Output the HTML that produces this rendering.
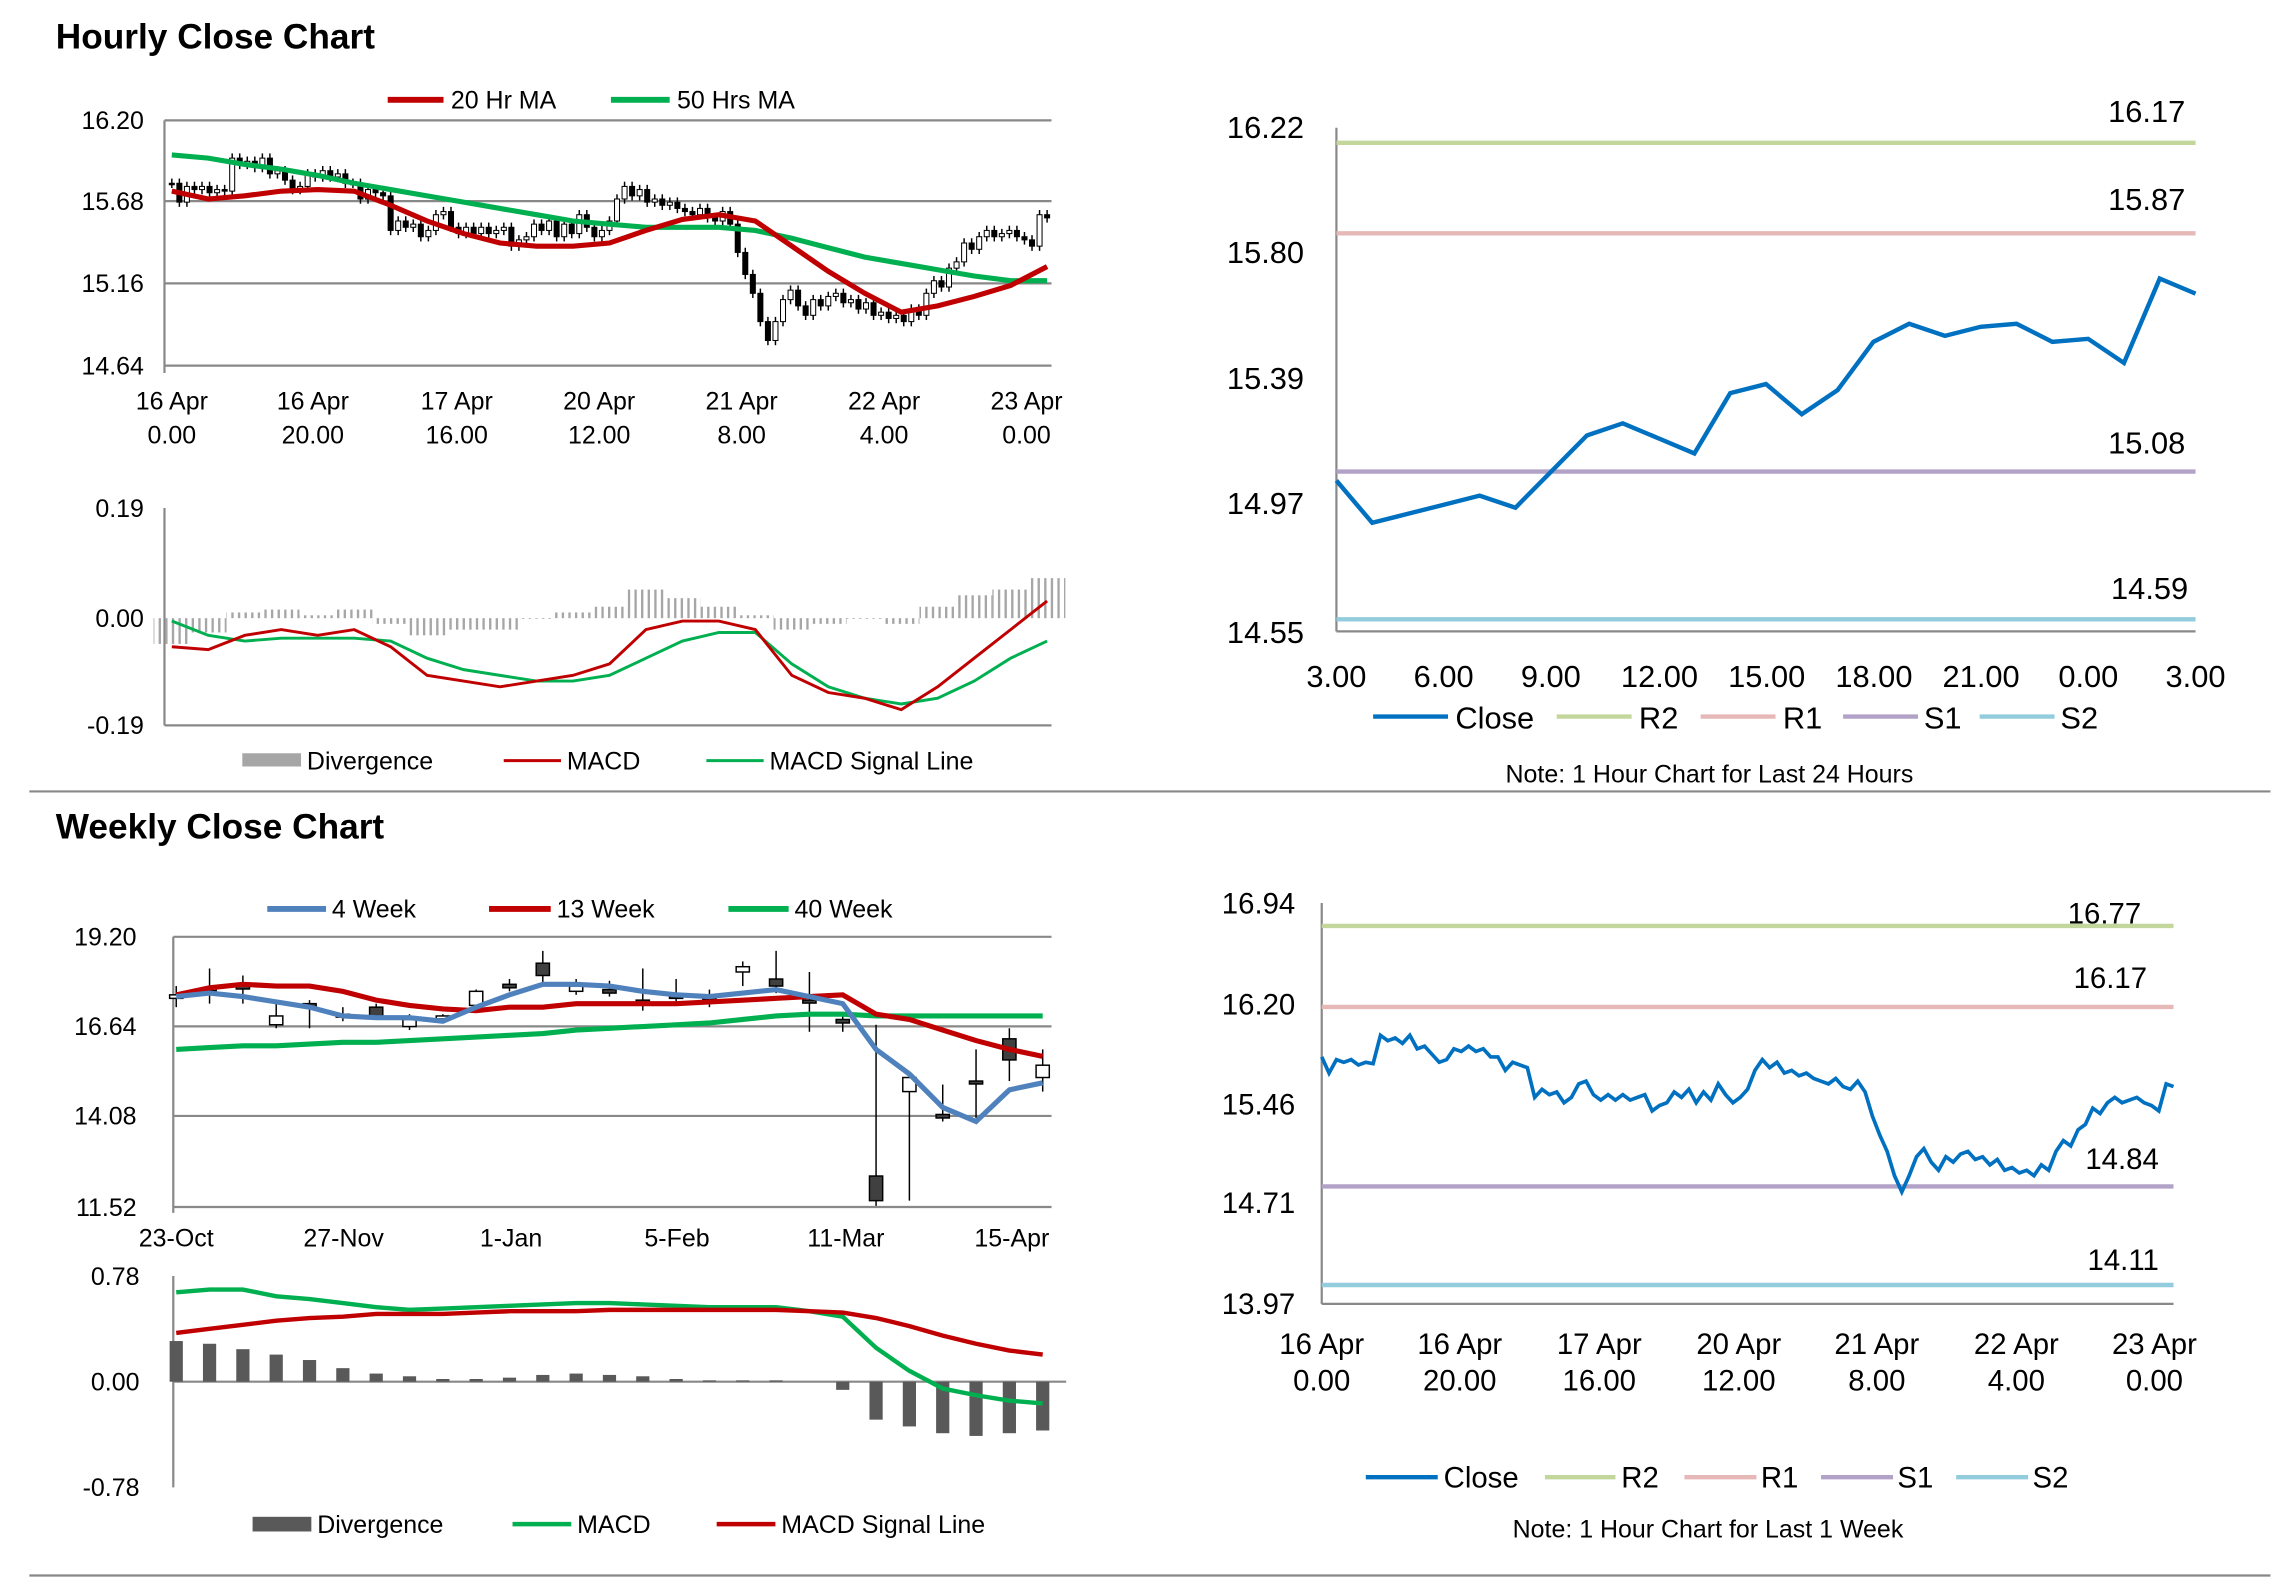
<!DOCTYPE html>
<html><head><meta charset="utf-8"><style>
html,body{margin:0;padding:0;background:#fff}
svg{display:block;font-family:"Liberation Sans",Arial,sans-serif}
</style></head><body>
<svg id="root" xmlns="http://www.w3.org/2000/svg" width="2291" height="1577" viewBox="0 0 1560 1074" preserveAspectRatio="none">
<defs>
<pattern id="stripes" patternUnits="userSpaceOnUse" width="4.5" height="10"><rect x="0" y="0" width="1.6" height="10" fill="#a6a6a6"/></pattern>
</defs>
<rect width="1560" height="1074" fill="#fff"/>
<text x="38" y="33" font-size="24" font-weight="bold">Hourly Close Chart</text>
<text x="38" y="571" font-size="24" font-weight="bold">Weekly Close Chart</text>
<line x1="20" y1="539" x2="1546" y2="539" stroke="#888" stroke-width="1.5"/>
<line x1="20" y1="1073" x2="1546" y2="1073" stroke="#888" stroke-width="1.5"/>

<g font-size="17" fill="#000">
<line x1="112" y1="82" x2="716" y2="82" stroke="#888" stroke-width="1.5"/>
<line x1="112" y1="137" x2="716" y2="137" stroke="#888" stroke-width="1.5"/>
<line x1="112" y1="193" x2="716" y2="193" stroke="#888" stroke-width="1.5"/>
<line x1="112" y1="249" x2="716" y2="249" stroke="#888" stroke-width="1.5"/>
<line x1="112" y1="82" x2="112" y2="254" stroke="#888" stroke-width="1.5"/>
<text x="98" y="88" text-anchor="end">16.20</text>
<text x="98" y="143" text-anchor="end">15.68</text>
<text x="98" y="199" text-anchor="end">15.16</text>
<text x="98" y="255" text-anchor="end">14.64</text>
<g text-anchor="middle">
<text x="117" y="279">16 Apr</text><text x="117" y="302">0.00</text>
<text x="213" y="279">16 Apr</text><text x="213" y="302">20.00</text>
<text x="311" y="279">17 Apr</text><text x="311" y="302">16.00</text>
<text x="408" y="279">20 Apr</text><text x="408" y="302">12.00</text>
<text x="505" y="279">21 Apr</text><text x="505" y="302">8.00</text>
<text x="602" y="279">22 Apr</text><text x="602" y="302">4.00</text>
<text x="699" y="279">23 Apr</text><text x="699" y="302">0.00</text>
</g>
</g>
<g font-size="17">
<line x1="264" y1="68" x2="302" y2="68" stroke="#c00000" stroke-width="4"/><text x="307" y="74">20 Hr MA</text>
<line x1="416" y1="68" x2="456" y2="68" stroke="#00b050" stroke-width="4"/><text x="461" y="74">50 Hrs MA</text>
</g>
<g id="hourlyPrice"></g>

<g font-size="17">
<line x1="112" y1="346" x2="112" y2="494" stroke="#888" stroke-width="1.5"/>
<line x1="112" y1="494" x2="716" y2="494" stroke="#888" stroke-width="1.5"/>
<text x="98" y="352" text-anchor="end">0.19</text>
<text x="98" y="427" text-anchor="end">0.00</text>
<text x="98" y="500" text-anchor="end">-0.19</text>
<rect x="165" y="513" width="40" height="9" fill="#a6a6a6"/><text x="209" y="524">Divergence</text>
<line x1="343" y1="518" x2="382" y2="518" stroke="#c00000" stroke-width="2"/><text x="386" y="524">MACD</text>
<line x1="481" y1="518" x2="520" y2="518" stroke="#00b050" stroke-width="2"/><text x="524" y="524">MACD Signal Line</text>
</g>
<g id="hourlyMacd"></g>

<g font-size="21">
<line x1="910" y1="87" x2="910" y2="430" stroke="#888" stroke-width="1.5"/>
<line x1="910" y1="430" x2="1495" y2="430" stroke="#888" stroke-width="1.5"/>
<text x="888" y="94" text-anchor="end">16.22</text>
<text x="888" y="179" text-anchor="end">15.80</text>
<text x="888" y="265" text-anchor="end">15.39</text>
<text x="888" y="350" text-anchor="end">14.97</text>
<text x="888" y="438" text-anchor="end">14.55</text>
<g text-anchor="middle">
<text x="910" y="468">3.00</text><text x="983" y="468">6.00</text><text x="1056" y="468">9.00</text>
<text x="1130" y="468">12.00</text><text x="1203" y="468">15.00</text><text x="1276" y="468">18.00</text>
<text x="1349" y="468">21.00</text><text x="1422" y="468">0.00</text><text x="1495" y="468">3.00</text>
</g>
<text x="1488" y="83" text-anchor="end">16.17</text>
<text x="1488" y="143" text-anchor="end">15.87</text>
<text x="1488" y="309" text-anchor="end">15.08</text>
<text x="1490" y="408" text-anchor="end">14.59</text>
<line x1="935" y1="488" x2="986" y2="488" stroke="#0070c0" stroke-width="3"/><text x="991" y="496">Close</text>
<line x1="1060" y1="488" x2="1111" y2="488" stroke="#c3d69b" stroke-width="3"/><text x="1116" y="496">R2</text>
<line x1="1158" y1="488" x2="1209" y2="488" stroke="#e6b9b8" stroke-width="3"/><text x="1214" y="496">R1</text>
<line x1="1255" y1="488" x2="1306" y2="488" stroke="#b3a2c7" stroke-width="3"/><text x="1310" y="496">S1</text>
<line x1="1348" y1="488" x2="1399" y2="488" stroke="#93cddd" stroke-width="3"/><text x="1403" y="496">S2</text>
<text x="1164" y="533" font-size="17" text-anchor="middle">Note: 1 Hour Chart for Last 24 Hours</text>
</g>
<g id="dayChart"></g>

<g font-size="17">
<line x1="118" y1="638" x2="716" y2="638" stroke="#888" stroke-width="1.5"/>
<line x1="118" y1="699" x2="716" y2="699" stroke="#888" stroke-width="1.5"/>
<line x1="118" y1="760" x2="716" y2="760" stroke="#888" stroke-width="1.5"/>
<line x1="118" y1="822" x2="716" y2="822" stroke="#888" stroke-width="1.5"/>
<line x1="118" y1="638" x2="118" y2="826" stroke="#888" stroke-width="1.5"/>
<text x="93" y="644" text-anchor="end">19.20</text>
<text x="93" y="705" text-anchor="end">16.64</text>
<text x="93" y="766" text-anchor="end">14.08</text>
<text x="93" y="828" text-anchor="end">11.52</text>
<g text-anchor="middle">
<text x="120" y="849">23-Oct</text><text x="234" y="849">27-Nov</text><text x="348" y="849">1-Jan</text>
<text x="461" y="849">5-Feb</text><text x="576" y="849">11-Mar</text><text x="689" y="849">15-Apr</text>
</g>
<line x1="182" y1="619" x2="222" y2="619" stroke="#4f81bd" stroke-width="4"/><text x="226" y="625">4 Week</text>
<line x1="333" y1="619" x2="375" y2="619" stroke="#c00000" stroke-width="4"/><text x="379" y="625">13 Week</text>
<line x1="496" y1="619" x2="537" y2="619" stroke="#00b050" stroke-width="4"/><text x="541" y="625">40 Week</text>
</g>
<g id="weeklyPrice"></g>

<g font-size="17">
<line x1="118" y1="869" x2="118" y2="1013" stroke="#888" stroke-width="1.5"/>
<line x1="118" y1="941" x2="726" y2="941" stroke="#888" stroke-width="1.5"/>
<text x="95" y="875" text-anchor="end">0.78</text>
<text x="95" y="947" text-anchor="end">0.00</text>
<text x="95" y="1019" text-anchor="end">-0.78</text>
<rect x="172" y="1033" width="40" height="10" fill="#595959"/><text x="216" y="1044">Divergence</text>
<line x1="349" y1="1038" x2="389" y2="1038" stroke="#00b050" stroke-width="3"/><text x="393" y="1044">MACD</text>
<line x1="488" y1="1038" x2="528" y2="1038" stroke="#c00000" stroke-width="3"/><text x="532" y="1044">MACD Signal Line</text>
</g>
<g id="weeklyMacd"></g>

<g font-size="20">
<line x1="900" y1="615" x2="900" y2="888" stroke="#888" stroke-width="1.5"/>
<line x1="900" y1="888" x2="1480" y2="888" stroke="#888" stroke-width="1.5"/>
<text x="882" y="622" text-anchor="end">16.94</text>
<text x="882" y="691" text-anchor="end">16.20</text>
<text x="882" y="759" text-anchor="end">15.46</text>
<text x="882" y="826" text-anchor="end">14.71</text>
<text x="882" y="895" text-anchor="end">13.97</text>
<g text-anchor="middle">
<text x="900" y="922">16 Apr</text><text x="900" y="947">0.00</text>
<text x="994" y="922">16 Apr</text><text x="994" y="947">20.00</text>
<text x="1089" y="922">17 Apr</text><text x="1089" y="947">16.00</text>
<text x="1184" y="922">20 Apr</text><text x="1184" y="947">12.00</text>
<text x="1278" y="922">21 Apr</text><text x="1278" y="947">8.00</text>
<text x="1373" y="922">22 Apr</text><text x="1373" y="947">4.00</text>
<text x="1467" y="922">23 Apr</text><text x="1467" y="947">0.00</text>
</g>
<text x="1458" y="629" text-anchor="end">16.77</text>
<text x="1462" y="673" text-anchor="end">16.17</text>
<text x="1470" y="796" text-anchor="end">14.84</text>
<text x="1470" y="865" text-anchor="end">14.11</text>
<line x1="930" y1="1006" x2="979" y2="1006" stroke="#0070c0" stroke-width="3"/><text x="983" y="1013">Close</text>
<line x1="1052" y1="1006" x2="1100" y2="1006" stroke="#c3d69b" stroke-width="3"/><text x="1104" y="1013">R2</text>
<line x1="1147" y1="1006" x2="1196" y2="1006" stroke="#e6b9b8" stroke-width="3"/><text x="1199" y="1013">R1</text>
<line x1="1240" y1="1006" x2="1289" y2="1006" stroke="#b3a2c7" stroke-width="3"/><text x="1292" y="1013">S1</text>
<line x1="1332" y1="1006" x2="1381" y2="1006" stroke="#93cddd" stroke-width="3"/><text x="1384" y="1013">S2</text>
<text x="1163" y="1047" font-size="17" text-anchor="middle">Note: 1 Hour Chart for Last 1 Week</text>
</g>
<g id="weekChart"></g>
</svg>
<script>
const hourlyClose = [15.80,15.68,15.78,15.76,15.78,15.74,15.76,15.75,15.96,15.92,15.94,15.90,15.96,15.86,15.88,15.82,15.76,15.78,15.86,15.84,15.88,15.84,15.86,15.80,15.80,15.70,15.76,15.74,15.72,15.50,15.56,15.52,15.54,15.46,15.50,15.60,15.62,15.52,15.48,15.52,15.48,15.52,15.48,15.50,15.52,15.40,15.44,15.46,15.54,15.50,15.56,15.46,15.54,15.48,15.60,15.52,15.46,15.50,15.56,15.70,15.78,15.72,15.76,15.68,15.70,15.66,15.68,15.64,15.62,15.60,15.64,15.58,15.56,15.62,15.54,15.36,15.22,15.10,14.92,14.80,14.92,15.06,15.12,15.02,14.96,15.06,15.02,15.08,15.10,15.04,15.06,15.00,15.04,14.96,14.98,14.94,14.96,14.92,15.00,14.96,15.10,15.18,15.14,15.26,15.30,15.42,15.38,15.46,15.50,15.46,15.48,15.50,15.46,15.44,15.40,15.60,15.58];
const hourlyMa20 = [15.75,15.70,15.72,15.75,15.76,15.75,15.66,15.56,15.48,15.42,15.40,15.40,15.42,15.50,15.57,15.60,15.56,15.40,15.24,15.10,14.98,15.02,15.08,15.15,15.27];
const hourlyMa50 = [15.98,15.96,15.92,15.89,15.85,15.80,15.76,15.72,15.68,15.64,15.60,15.56,15.54,15.52,15.52,15.52,15.50,15.45,15.39,15.33,15.29,15.25,15.21,15.18,15.18];
const hourlyMacd = [-0.05,-0.055,-0.03,-0.02,-0.03,-0.02,-0.05,-0.10,-0.11,-0.12,-0.11,-0.10,-0.08,-0.02,-0.005,-0.005,-0.02,-0.10,-0.13,-0.14,-0.16,-0.12,-0.07,-0.02,0.03];
const hourlySignal = [-0.005,-0.03,-0.04,-0.035,-0.035,-0.035,-0.04,-0.07,-0.09,-0.10,-0.11,-0.11,-0.10,-0.07,-0.04,-0.025,-0.025,-0.08,-0.12,-0.14,-0.15,-0.14,-0.11,-0.07,-0.04];
const dayClose = [15.05,14.91,14.94,14.97,15.00,14.96,15.08,15.20,15.24,15.19,15.14,15.34,15.37,15.27,15.35,15.51,15.57,15.53,15.56,15.57,15.51,15.52,15.44,15.72,15.67];
const dayLevels = [16.17,15.87,15.08,14.59];
const weekLevels = [16.77,16.17,14.84,14.11];
const levelColors = ['#c3d69b','#e6b9b8','#b3a2c7','#93cddd'];
const weeklyOpen  = [17.45,17.70,17.80,16.70,17.30,17.00,17.20,16.65,16.90,17.25,17.85,18.45,17.65,17.70,17.40,17.55,17.50,18.20,18.00,17.40,16.85,12.40,14.80,14.15,15.10,16.30,15.20];
const weeklyHigh  = [17.80,18.30,18.10,17.30,17.40,17.20,17.30,17.00,17.00,17.70,18.00,18.80,18.00,17.95,18.30,18.00,17.70,18.50,18.80,18.20,17.00,16.70,15.20,15.00,16.00,16.60,16.00];
const weeklyLow   = [17.20,17.30,17.30,16.60,16.60,16.80,16.90,16.55,16.80,17.10,17.65,17.90,17.55,17.50,17.10,17.30,17.20,17.80,17.60,16.50,16.50,11.55,11.70,13.95,14.05,15.10,14.80];
const weeklyClose = [17.55,17.75,17.80,16.95,17.20,16.95,16.95,16.85,16.95,17.65,17.75,18.10,17.80,17.60,17.40,17.45,17.50,18.35,17.80,17.40,16.75,11.70,15.20,14.05,15.05,15.70,15.55];
const ma4  = [17.50,17.60,17.50,17.35,17.20,16.95,16.90,16.90,16.80,17.20,17.55,17.85,17.85,17.80,17.65,17.55,17.50,17.60,17.70,17.50,17.30,16.00,15.30,14.35,13.95,14.85,15.05];
const ma13 = [17.55,17.75,17.85,17.80,17.80,17.65,17.40,17.25,17.15,17.10,17.20,17.20,17.30,17.30,17.30,17.30,17.35,17.40,17.45,17.50,17.55,17.00,16.85,16.55,16.25,16.00,15.80];
const ma40 = [16.00,16.05,16.10,16.10,16.15,16.20,16.20,16.25,16.30,16.35,16.40,16.45,16.55,16.60,16.65,16.70,16.75,16.85,16.95,17.00,17.00,16.95,16.95,16.95,16.95,16.95,16.95];
const wMacd   = [0.66,0.68,0.68,0.63,0.61,0.58,0.55,0.53,0.54,0.55,0.56,0.57,0.58,0.58,0.57,0.56,0.55,0.55,0.55,0.52,0.48,0.25,0.08,-0.05,-0.10,-0.14,-0.16];
const wSignal = [0.36,0.39,0.42,0.45,0.47,0.48,0.50,0.50,0.50,0.51,0.52,0.52,0.52,0.53,0.53,0.53,0.53,0.53,0.53,0.52,0.51,0.47,0.41,0.34,0.28,0.23,0.20];
const wDiv    = [0.30,0.28,0.24,0.20,0.16,0.10,0.06,0.04,0.02,0.02,0.03,0.05,0.06,0.05,0.04,0.02,0.01,0.01,0.01,0.00,-0.06,-0.28,-0.33,-0.38,-0.40,-0.38,-0.36];

const NS='http://www.w3.org/2000/svg';
function mk(tag, attrs, parent){const e=document.createElementNS(NS,tag);for(const k in attrs)e.setAttribute(k,attrs[k]);parent.appendChild(e);return e;}
function pts(arr, xf, yf){return arr.map((v,i)=>xf(i).toFixed(2)+','+yf(v).toFixed(2)).join(' ');}

const gHP=document.getElementById('hourlyPrice');
const nH=hourlyClose.length;
const xH=i=>117+i*(713-117)/(nH-1);
const yH=v=>249-(v-14.64)/(16.20-14.64)*167;
const xS=i=>117+i*(713-117)/(hourlyMa20.length-1);
hourlyClose.forEach((c,i)=>{
  const o=i?hourlyClose[i-1]:c;
  const hi=Math.max(o,c)+0.03, lo=Math.min(o,c)-0.03;
  const w=mk('line',{x1:xH(i),x2:xH(i),y1:yH(hi),y2:yH(lo),stroke:'#000','stroke-width':1},gHP);
  
  
  const b=mk('rect',{x:xH(i)-1.7,y:yH(Math.max(o,c)),width:3.4,height:Math.max(1,Math.abs(yH(o)-yH(c))),fill:c>o?'#fff':'#000',stroke:'#000','stroke-width':0.7},gHP);
  
  
});
const m50=mk('polyline',{points:pts(hourlyMa50,xS,yH),fill:'none',stroke:'#00b050','stroke-width':3.5},gHP);


const m20=mk('polyline',{points:pts(hourlyMa20,xS,yH),fill:'none',stroke:'#c00000','stroke-width':3.5},gHP);



const gHM=document.getElementById('hourlyMacd');
const yM=v=>421-v/0.19*74;
const stepS=(713-117)/(hourlyMacd.length-1);
hourlyMacd.forEach((v,i)=>{
  const d=v-hourlySignal[i];
  const bar=mk('rect',{x:xS(i)-stepS/2,y:Math.min(yM(0),yM(d)),width:stepS,height:Math.max(0.5,Math.abs(yM(d)-yM(0))),fill:'url(#stripes)'},gHM);
  
  
});
const hs=mk('polyline',{points:pts(hourlySignal,xS,yM),fill:'none',stroke:'#00b050','stroke-width':2},gHM);


const hm=mk('polyline',{points:pts(hourlyMacd,xS,yM),fill:'none',stroke:'#c00000','stroke-width':2},gHM);



const gD=document.getElementById('dayChart');
const xD=i=>910+i*585/(dayClose.length-1);
const yD=v=>430-(v-14.55)/(16.22-14.55)*343;
dayLevels.forEach((v,k)=>{
  const l=mk('line',{x1:910,x2:1495,y1:yD(v),y2:yD(v),stroke:levelColors[k],'stroke-width':3},gD);
  
  
});
const dl=mk('polyline',{points:pts(dayClose,xD,yD),fill:'none',stroke:'#0070c0','stroke-width':3},gD);



const gWC=document.getElementById('weekChart');
const xB=i=>900+i*(1480-900)/(nH-1);
const yB=v=>888-(v-13.97)/(16.94-13.97)*273;
weekLevels.forEach((v,k)=>{
  const l=mk('line',{x1:900,x2:1480,y1:yB(v),y2:yB(v),stroke:levelColors[k],'stroke-width':3},gWC);
  
  
});
const wl=mk('polyline',{points:pts(hourlyClose,xB,yB),fill:'none',stroke:'#0070c0','stroke-width':2.5},gWC);



const gWP=document.getElementById('weeklyPrice');
const xW=i=>120+i*(710-120)/(weeklyClose.length-1);
const yW=v=>822-(v-11.52)/7.68*184;
weeklyClose.forEach((c,i)=>{
  const o=weeklyOpen[i];
  const w=mk('line',{x1:xW(i),x2:xW(i),y1:yW(weeklyHigh[i]),y2:yW(weeklyLow[i]),stroke:'#000','stroke-width':1},gWP);
  
  
  const b=mk('rect',{x:xW(i)-4.5,y:yW(Math.max(o,c)),width:9,height:Math.max(2,Math.abs(yW(o)-yW(c))),fill:c>o?'#fff':'#404040',stroke:'#000','stroke-width':1},gWP);
  
  
});
const l40=mk('polyline',{points:pts(ma40,xW,yW),fill:'none',stroke:'#00b050','stroke-width':3.5},gWP);


const l13=mk('polyline',{points:pts(ma13,xW,yW),fill:'none',stroke:'#c00000','stroke-width':3.5},gWP);


const l4=mk('polyline',{points:pts(ma4,xW,yW),fill:'none',stroke:'#4f81bd','stroke-width':3.5},gWP);



const gWM=document.getElementById('weeklyMacd');
const yWM=v=>941-v/0.78*72;
wDiv.forEach((d,i)=>{
  const r=mk('rect',{x:xW(i)-4.5,y:Math.min(yWM(0),yWM(d)),width:9,height:Math.abs(yWM(d)-yWM(0)),fill:'#595959'},gWM);
  
  
});
const wm=mk('polyline',{points:pts(wMacd,xW,yWM),fill:'none',stroke:'#00b050','stroke-width':3},gWM);


const ws=mk('polyline',{points:pts(wSignal,xW,yWM),fill:'none',stroke:'#c00000','stroke-width':3},gWM);


</script>
</body></html>
